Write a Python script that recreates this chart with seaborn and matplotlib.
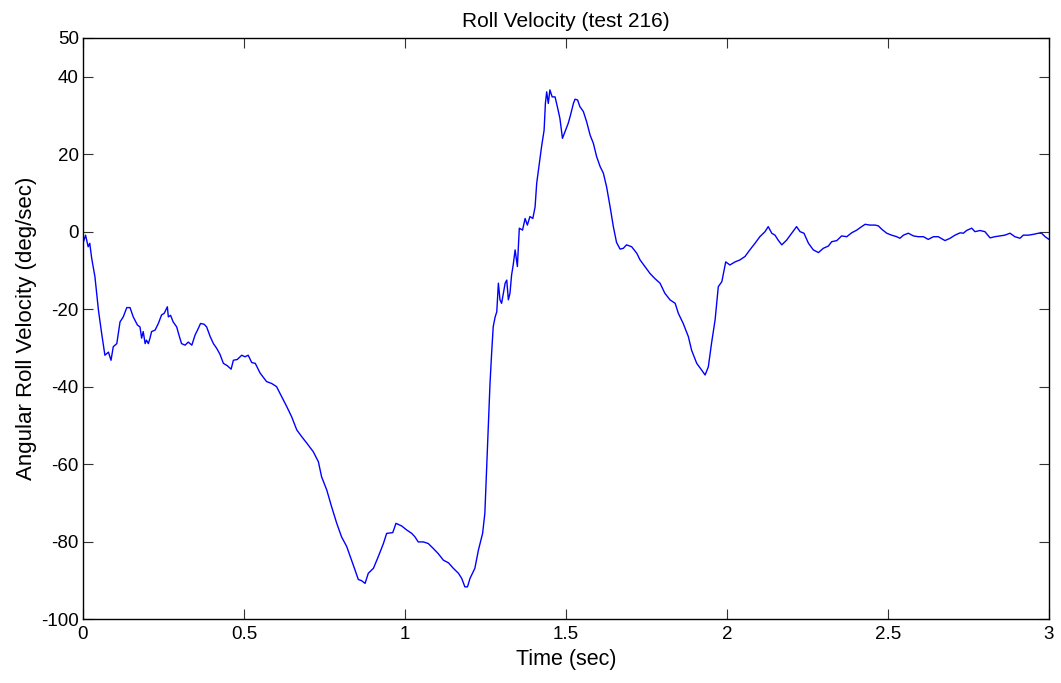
"""
Roll velocity trace (test 216), MATLAB-style line plot redrawn with seaborn.
Values were digitised by hand from the original figure.
"""

import matplotlib
matplotlib.use("Agg")
import matplotlib.pyplot as plt
import numpy as np
import pandas as pd
import seaborn as sns

# time (sec)
time_sec = [
    0.000, 0.008, 0.016, 0.021, 0.027, 0.037, 0.048, 0.058, 0.068, 0.079,
    0.087, 0.094, 0.105, 0.115, 0.125, 0.136, 0.146, 0.156, 0.169, 0.177,
    0.182, 0.187, 0.193, 0.197, 0.203, 0.208, 0.213, 0.224, 0.234, 0.244,
    0.252, 0.262, 0.265, 0.272, 0.280, 0.291, 0.298, 0.306, 0.317, 0.327,
    0.338, 0.348, 0.358, 0.365, 0.376, 0.384, 0.395, 0.405, 0.415, 0.425,
    0.436, 0.448, 0.460, 0.467, 0.479, 0.493, 0.503, 0.513, 0.524, 0.535,
    0.550, 0.570, 0.586, 0.601, 0.617, 0.633, 0.648, 0.664, 0.679, 0.695,
    0.715, 0.731, 0.741, 0.757, 0.772, 0.788, 0.803, 0.819, 0.834, 0.845,
    0.855, 0.865, 0.876, 0.886, 0.902, 0.917, 0.933, 0.943, 0.962, 0.972,
    0.990, 1.005, 1.021, 1.031, 1.041, 1.057, 1.072, 1.088, 1.103, 1.119,
    1.135, 1.150, 1.166, 1.176, 1.186, 1.194, 1.202, 1.217, 1.228, 1.241,
    1.248, 1.254, 1.259, 1.264, 1.269, 1.274, 1.280, 1.285, 1.290, 1.295,
    1.300, 1.311, 1.316, 1.321, 1.326, 1.331, 1.336, 1.342, 1.349, 1.355,
    1.365, 1.373, 1.380, 1.388, 1.397, 1.404, 1.409, 1.417, 1.424, 1.432,
    1.436, 1.440, 1.445, 1.450, 1.457, 1.466, 1.473, 1.481, 1.489, 1.497,
    1.507, 1.514, 1.523, 1.528, 1.536, 1.543, 1.554, 1.564, 1.575, 1.585,
    1.595, 1.606, 1.616, 1.626, 1.637, 1.647, 1.657, 1.668, 1.678, 1.688,
    1.704, 1.720, 1.730, 1.745, 1.761, 1.776, 1.792, 1.807, 1.823, 1.839,
    1.849, 1.864, 1.880, 1.890, 1.906, 1.921, 1.932, 1.942, 1.952, 1.963,
    1.973, 1.984, 1.989, 1.996, 2.009, 2.025, 2.040, 2.056, 2.071, 2.087,
    2.102, 2.118, 2.128, 2.139, 2.149, 2.159, 2.170, 2.185, 2.201, 2.216,
    2.227, 2.239, 2.253, 2.268, 2.284, 2.299, 2.315, 2.325, 2.341, 2.356,
    2.372, 2.387, 2.403, 2.418, 2.429, 2.444, 2.460, 2.470, 2.481, 2.496,
    2.511, 2.527, 2.537, 2.548, 2.563, 2.579, 2.594, 2.610, 2.625, 2.641,
    2.656, 2.677, 2.693, 2.708, 2.724, 2.734, 2.744, 2.760, 2.770, 2.786,
    2.801, 2.817, 2.832, 2.848, 2.863, 2.879, 2.894, 2.910, 2.920, 2.936,
    2.951, 2.967, 2.977, 2.988, 3.000,
]

# angular roll velocity (deg/sec)
roll_velocity = [
    -3.0, -0.9, -3.9, -3.0, -6.9, -11.6, -20.3, -26.3, -31.9, -31.1,
    -33.2, -29.7, -28.9, -23.3, -22.0, -19.6, -19.6, -22.0, -24.1, -24.6,
    -27.5, -25.8, -28.9, -28.0, -28.9, -27.5, -25.8, -25.4, -23.7, -21.5,
    -21.1, -19.4, -22.0, -21.6, -23.3, -24.6, -26.7, -28.9, -29.3, -28.5,
    -29.3, -26.7, -25.0, -23.7, -23.9, -24.6, -27.1, -28.9, -30.1, -31.6,
    -34.0, -34.6, -35.5, -33.2, -33.0, -31.9, -32.3, -31.9, -33.8, -34.0,
    -36.5, -38.7, -39.2, -40.0, -42.6, -45.2, -47.8, -51.2, -52.9, -54.6,
    -56.8, -59.4, -63.3, -66.7, -71.0, -75.3, -78.8, -81.3, -84.8, -87.4,
    -89.8, -90.1, -90.8, -88.2, -86.9, -83.9, -80.5, -77.9, -77.7, -75.3,
    -76.0, -77.0, -77.9, -78.8, -80.1, -80.1, -80.5, -81.8, -83.1, -84.8,
    -85.5, -86.9, -88.2, -89.5, -91.7, -91.7, -89.5, -86.9, -82.2, -77.9,
    -72.7, -60.0, -50.0, -39.2, -31.4, -24.5, -22.0, -20.7, -13.3, -17.6,
    -18.5, -13.3, -12.5, -17.6, -15.9, -11.2, -8.6, -4.7, -9.0, 0.9,
    0.4, 3.4, 1.7, 3.9, 3.4, 6.4, 12.5, 17.6, 21.9, 26.2,
    33.1, 36.1, 33.1, 36.6, 34.8, 34.8, 32.3, 29.3, 24.1, 25.8,
    28.0, 30.1, 33.1, 34.2, 34.0, 32.3, 31.0, 28.4, 24.9, 22.8,
    19.4, 16.8, 15.1, 11.6, 6.4, 1.3, -2.8, -4.5, -4.3, -3.4,
    -3.9, -5.6, -7.3, -9.0, -10.8, -12.1, -13.3, -15.9, -17.6, -18.5,
    -21.1, -23.7, -27.1, -30.6, -34.0, -35.7, -37.0, -34.9, -28.8, -22.8,
    -14.2, -12.9, -10.8, -7.8, -8.6, -7.8, -7.3, -6.4, -4.7, -3.0,
    -1.3, 0.0, 1.3, -0.4, -0.9, -2.2, -3.4, -2.2, -0.4, 1.3,
    0.0, -0.4, -3.0, -4.7, -5.4, -4.3, -3.7, -2.6, -2.3, -1.1,
    -1.3, -0.3, 0.4, 1.3, 1.9, 1.7, 1.7, 1.5, 0.6, -0.4,
    -0.9, -1.3, -1.7, -0.9, -0.4, -1.1, -1.3, -1.3, -2.0, -1.3,
    -1.3, -2.3, -1.7, -0.9, -0.3, -0.4, 0.3, 0.9, 0.0, 0.3,
    0.0, -1.6, -1.3, -1.1, -0.9, -0.4, -1.3, -1.7, -0.9, -0.9,
    -0.7, -0.4, -0.4, -1.3, -2.0,
]

x_ticks = [0, 0.5, 1, 1.5, 2, 2.5, 3]
x_tick_labels = ["0", "0.5", "1", "1.5", "2", "2.5", "3"]
y_ticks = [-100, -80, -60, -40, -20, 0, 20, 40, 50]
y_tick_labels = ["-100", "-80", "-60", "-40", "-20", "0", "20", "40", "50"]


def main():
    df = pd.DataFrame({"t": time_sec, "v": roll_velocity})

    sns.set_style("white")
    plt.rcParams["font.family"] = ["Liberation Sans", "DejaVu Sans"]
    plt.rcParams["text.color"] = "black"
    plt.rcParams["axes.labelcolor"] = "black"
    plt.rcParams["xtick.color"] = "black"
    plt.rcParams["ytick.color"] = "black"

    fig = plt.figure(figsize=(10.61, 6.83), dpi=100)
    ax = fig.add_axes([83 / 1061, 1 - 619 / 683, 966 / 1061, 581 / 683])

    sns.lineplot(data=df, x="t", y="v", estimator=None, sort=False,
                 color="#0000ff", linewidth=1.0, ax=ax)

    ax.set_xlim(0, 3)
    ax.set_ylim(-100, 50)
    ax.set_xticks(x_ticks)
    ax.set_xticklabels(x_tick_labels)
    ax.set_yticks(y_ticks)
    ax.set_yticklabels(y_tick_labels)

    # MATLAB box: ticks inward on all four sides
    ax.tick_params(direction="in", length=7, width=0.8, color="#333333",
                   labelcolor="black", labelsize=13.5,
                   top=True, right=True, bottom=True, left=True)
    ax.tick_params(axis="x", pad=5)
    ax.tick_params(axis="y", pad=3)
    for side in ax.spines.values():
        side.set_visible(True)
        side.set_color("black")
        side.set_linewidth(1.0)

    ax.set_xlabel("Time (sec)", fontsize=15.5, labelpad=4)
    ax.set_ylabel("Angular Roll Velocity (deg/sec)", fontsize=16, labelpad=3)
    ax.set_title("Roll Velocity (test 216)", fontsize=15, pad=8)

    fig.savefig("out.png", dpi=100, facecolor="white")
    plt.close(fig)


if __name__ == "__main__":
    main()
